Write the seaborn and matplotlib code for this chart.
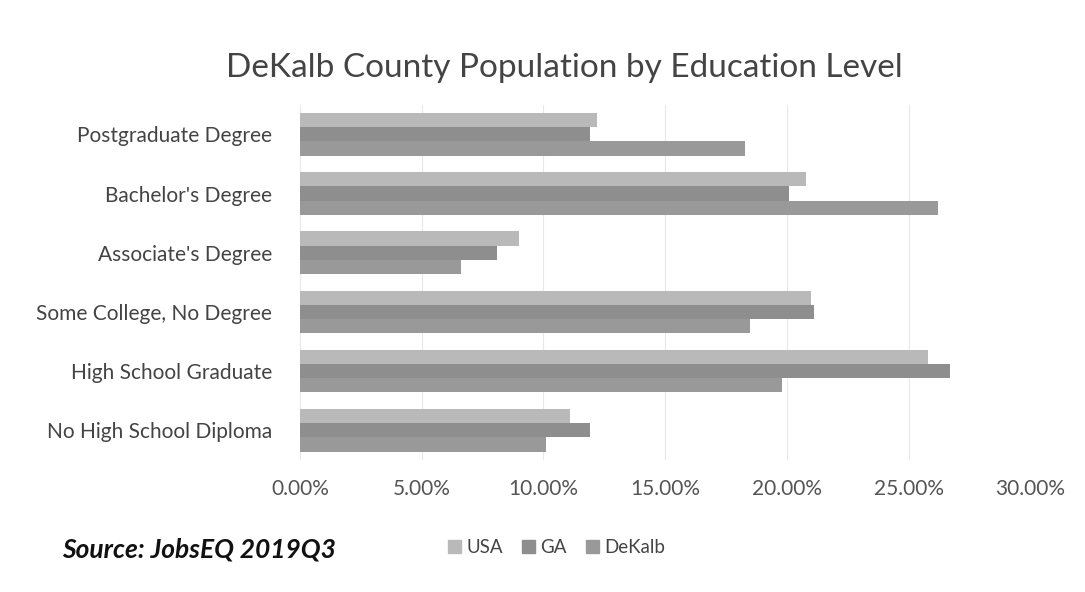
import pandas as pd
import seaborn as sns
import matplotlib.pyplot as plt
from matplotlib.patches import Patch
from matplotlib.ticker import PercentFormatter

levels = ["Postgraduate Degree", "Bachelor's Degree", "Associate's Degree",
          "Some College, No Degree", "High School Graduate", "No High School Diploma"]
usa = [12.2, 20.8, 9.0, 21.0, 25.8, 11.1]
ga = [11.9, 20.1, 8.1, 21.1, 26.7, 11.9]
dekalb = [18.3, 26.2, 6.6, 18.5, 19.8, 10.1]
regions = ["USA", "GA", "DeKalb"]
colors = ["#b9b9b9", "#8e8e8e", "#999999"]

rows = []
for name, vals in zip(regions, [usa, ga, dekalb]):
    for lev, v in zip(levels, vals):
        rows.append({"level": lev, "pct": v, "region": name})
df = pd.DataFrame(rows)

sns.set_style("white")
plt.rcParams["font.family"] = ["Lato", "DejaVu Sans"]

fig = plt.figure(figsize=(10.85, 5.92), dpi=100)
ax = fig.add_axes([0.2765, 0.223, 0.673, 0.600])

sns.barplot(data=df, y="level", x="pct", hue="region", order=levels,
            hue_order=regions, palette=colors, orient="h", width=0.72,
            saturation=1, linewidth=0, ax=ax, legend=False)

ax.set_xlim(0, 30)
ax.set_xticks([0, 5, 10, 15, 20, 25, 30])
ax.xaxis.set_major_formatter(PercentFormatter(decimals=2))
ax.grid(axis="x", color="#e8e8e8", lw=0.8)
ax.set_axisbelow(True)
for s in ax.spines.values():
    s.set_visible(False)
ax.set_xlabel("")
ax.set_ylabel("")
ax.tick_params(axis="x", length=0, pad=14, labelsize=15, labelcolor="#555555")
ax.tick_params(axis="y", length=0, pad=20, labelsize=15, labelcolor="#444444")

fig.text(0.52, 0.885, "DeKalb County Population by Education Level",
         ha="center", va="center", fontsize=24, color="#444444")
fig.text(0.057, 0.072, "Source: JobsEQ 2019Q3", ha="left", va="center",
         fontsize=19, fontweight="bold", fontstyle="italic", color="#111111")

handles = [Patch(color=c, label=r) for r, c in zip(regions, colors)]
fig.legend(handles=handles, loc="center", bbox_to_anchor=(0.513, 0.075),
           ncol=3, frameon=False, fontsize=13.5, handlelength=0.7,
           handleheight=0.7, handletextpad=0.3, columnspacing=1.0,
           labelcolor="#444444")

fig.savefig("out.png", dpi=100)
